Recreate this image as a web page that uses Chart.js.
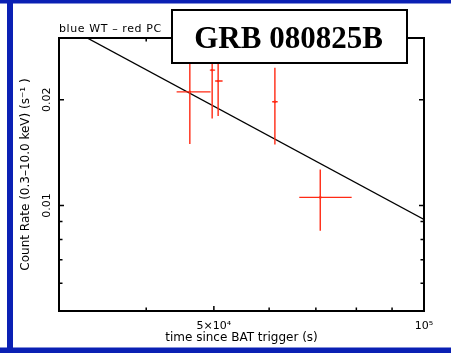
<!DOCTYPE html>
<html>
<head>
<meta charset="utf-8">
<script src="https://cdn.jsdelivr.net/npm/chart.js@4/dist/chart.umd.min.js"></script>
<style>
  html, body { margin: 0; padding: 0; background: #fff; }
  #wrap { width: 451px; height: 353px; position: relative; }
  canvas { display: block; }
</style>
</head>
<body>
<div id="wrap"><canvas id="lc" width="451" height="353"></canvas></div>
<script>
// Swift-XRT light curve, PC mode points (red)
const timeSec   = [46190, 49720, 50710, 61150, 71020];
const timeStart = [44220, 49340, 50210, 60610, 66270];
const timeStop  = [49460, 50210, 51460, 61710, 78770];
const rate      = [0.02107, 0.02430, 0.02262, 0.01974, 0.01054];
const rateLow   = [0.01495, 0.01770, 0.01797, 0.01492, 0.00846];
const rateHigh  = [0.02720, 0.03090, 0.02730, 0.02467, 0.01266];

// power-law decay model, end points
const fitTime = [32920, 100000];
const fitRate = [0.0300, 0.00912];

// axis ticks
const xTickValues = [40000, 50000, 60000, 70000, 80000, 90000, 100000];
const xTickLabels = ['', '5×10⁴', '', '', '', '', '10⁵'];
const yTickValues = [0.006, 0.007, 0.008, 0.009, 0.01, 0.02];
const yTickLabels = ['', '', '', '', '0.01', '0.02'];

const xTitle = 'time since BAT trigger (s)';
const yTitle = 'Count Rate (0.3–10.0 keV) (s⁻¹ )';
const modeNote = 'blue WT – red PC';
const grbName = 'GRB 080825B';

const RED = '#ff2a14';
const BLUE = '#0a20b4';
const SANS = '"DejaVu Sans", sans-serif';

const framePlugin = {
  id: 'frame',
  beforeDraw(chart) {
    const ctx = chart.ctx;
    ctx.save();
    ctx.fillStyle = '#fff';
    ctx.fillRect(0, 0, chart.width, chart.height);
    ctx.fillStyle = BLUE;
    ctx.fillRect(0, 0, chart.width, 3.5);
    ctx.fillRect(7, 0, 6, chart.height);
    ctx.fillRect(0, 347.5, chart.width, 6);
    ctx.restore();
  }
};

const errorBarPlugin = {
  id: 'errorBars',
  afterDatasetsDraw(chart) {
    const { ctx, chartArea: a, scales: { x, y } } = chart;
    ctx.save();
    ctx.beginPath();
    ctx.rect(a.left, a.top, a.right - a.left, a.bottom - a.top);
    ctx.clip();
    ctx.strokeStyle = RED;
    ctx.lineWidth = 1.4;
    for (let i = 0; i < timeSec.length; i++) {
      const px = x.getPixelForValue(timeSec[i]);
      const py = y.getPixelForValue(rate[i]);
      ctx.beginPath();
      ctx.moveTo(x.getPixelForValue(timeStart[i]), py);
      ctx.lineTo(x.getPixelForValue(timeStop[i]), py);
      ctx.moveTo(px, y.getPixelForValue(rateLow[i]));
      ctx.lineTo(px, y.getPixelForValue(rateHigh[i]));
      ctx.stroke();
    }
    ctx.restore();

    // axes box with inward ticks on all four sides
    ctx.save();
    ctx.strokeStyle = '#000';
    ctx.lineWidth = 2;
    ctx.strokeRect(a.left, a.top, a.right - a.left, a.bottom - a.top);
    ctx.lineWidth = 1.5;
    ctx.beginPath();
    x.ticks.forEach((t, i) => {
      const p = x.getPixelForValue(t.value);
      const len = xTickLabels[i] ? 5 : 3.5;
      ctx.moveTo(p, a.bottom); ctx.lineTo(p, a.bottom - len);
      ctx.moveTo(p, a.top); ctx.lineTo(p, a.top + len);
    });
    y.ticks.forEach((t, i) => {
      const p = y.getPixelForValue(t.value);
      const len = yTickLabels[i] ? 5 : 3.5;
      ctx.moveTo(a.left, p); ctx.lineTo(a.left + len, p);
      ctx.moveTo(a.right, p); ctx.lineTo(a.right - len, p);
    });
    ctx.stroke();
    ctx.restore();
  },
  afterDraw(chart) {
    const ctx = chart.ctx;
    ctx.save();
    ctx.fillStyle = '#000';
    ctx.font = '11px ' + SANS;
    ctx.textAlign = 'left';
    ctx.textBaseline = 'alphabetic';
    ctx.letterSpacing = '0.6px';
    ctx.fillText(modeNote, 59, 32);
    ctx.letterSpacing = '0px';

    // name box
    ctx.fillStyle = '#fff';
    ctx.fillRect(172, 10, 235, 53);
    ctx.strokeStyle = '#000';
    ctx.lineWidth = 2;
    ctx.strokeRect(172, 10, 235, 53);
    ctx.fillStyle = '#000';
    ctx.font = 'bold 31px "Liberation Serif", serif';
    ctx.textAlign = 'center';
    ctx.fillText(grbName, 288.5, 48.3);
    ctx.restore();
  }
};

new Chart(document.getElementById('lc'), {
  type: 'scatter',
  data: {
    datasets: [
      {
        type: 'line',
        data: fitTime.map((t, i) => ({ x: t, y: fitRate[i] })),
        borderColor: '#000',
        borderWidth: 1.4,
        pointRadius: 0,
        fill: false,
        order: 1
      },
      {
        data: timeSec.map((t, i) => ({ x: t, y: rate[i] })),
        backgroundColor: RED,
        borderColor: RED,
        pointStyle: 'rect',
        pointRadius: 1.5,
        borderWidth: 0,
        order: 0
      }
    ]
  },
  options: {
    responsive: false,
    animation: false,
    devicePixelRatio: 1,
    layout: { padding: { top: 38, right: 27, left: 0, bottom: 0 } },
    plugins: { legend: { display: false }, tooltip: { enabled: false } },
    scales: {
      x: {
        type: 'logarithmic',
        min: 30000,
        max: 100000,
        grid: { display: false },
        border: { display: false },
        afterBuildTicks: s => { s.ticks = xTickValues.map(v => ({ value: v })); },
        afterFit: s => { s.height = 42; },
        ticks: {
          autoSkip: false,
          maxRotation: 0,
          padding: 1,
          color: '#000',
          font: { family: SANS, size: 11 },
          callback: (v, i) => xTickLabels[i]
        },
        title: {
          display: true,
          text: xTitle,
          color: '#000',
          font: { family: SANS, size: 12 },
          padding: { top: 0, bottom: 8 }
        }
      },
      y: {
        type: 'logarithmic',
        min: 0.005,
        max: 0.03,
        grid: { display: false, drawTicks: false },
        border: { display: false },
        afterBuildTicks: s => { s.ticks = yTickValues.map(v => ({ value: v })); },
        afterFit: s => { s.width = 59; },
        ticks: {
          autoSkip: false,
          minRotation: 90,
          maxRotation: 90,
          crossAlign: 'center',
          padding: 0,
          color: '#000',
          font: { family: SANS, size: 11 },
          callback: (v, i) => yTickLabels[i]
        },
        title: {
          display: true,
          text: yTitle,
          color: '#000',
          font: { family: SANS, size: 12 },
          padding: { top: 19, bottom: 0 }
        }
      }
    }
  },
  plugins: [framePlugin, errorBarPlugin]
});
</script>
</body>
</html>
